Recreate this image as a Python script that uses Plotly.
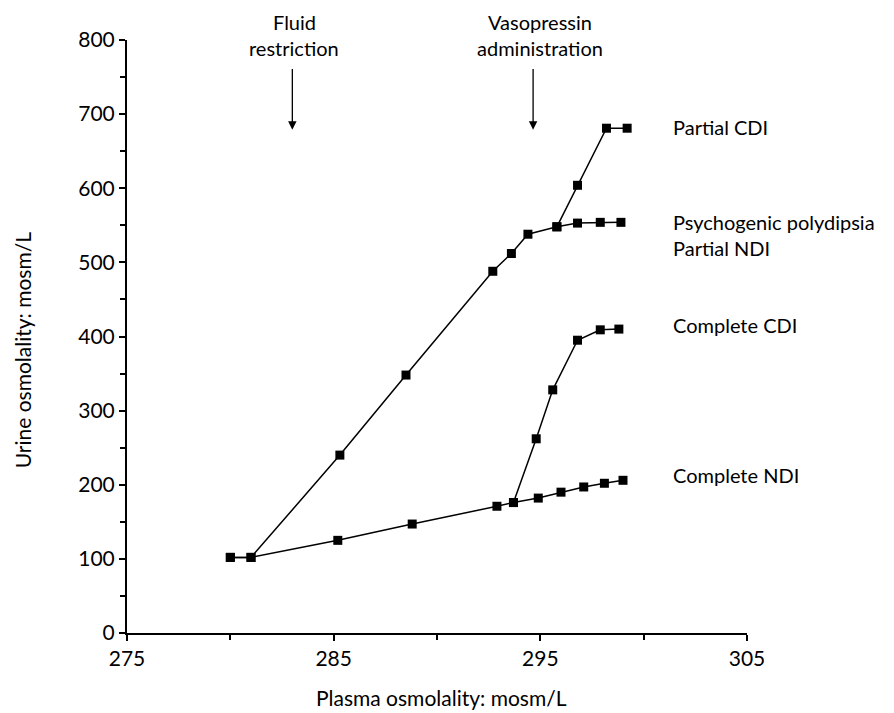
import plotly.graph_objects as go

# Shared baseline and fluid-restriction path (ends at psychogenic polydipsia / partial NDI plateau)
restr_x = [280.0, 281.0, 285.3, 288.5, 292.7, 293.6, 294.4, 295.8, 296.8, 297.9, 298.9]
restr_y = [102, 102, 240, 348, 488, 512, 538, 548, 553, 554, 554]

# Partial CDI (branches from the plateau after vasopressin)
pcdi_x = [295.8, 296.8, 298.2, 299.2]
pcdi_y = [548, 604, 681, 681]

# Complete NDI
cndi_x = [280.0, 281.0, 285.2, 288.8, 292.9, 293.7, 294.9, 296.0, 297.1, 298.1, 299.0]
cndi_y = [102, 102, 125, 147, 171, 176, 182, 190, 197, 202, 206]

# Complete CDI (branches from the complete NDI line after vasopressin)
ccdi_x = [293.7, 294.8, 295.6, 296.8, 297.9, 298.8]
ccdi_y = [176, 262, 328, 395, 409, 410]

x_ticks = [275, 285, 295, 305]
y_ticks = [0, 100, 200, 300, 400, 500, 600, 700, 800]

labels = ["Partial CDI", "Psychogenic polydipsia", "Partial NDI", "Complete CDI", "Complete NDI"]
label_y = [683, 555, 519, 416, 213]

FONT = "Lato, 'Open Sans', sans-serif"
FS = 20

fig = go.Figure()
for xs, ys in [(restr_x, restr_y), (pcdi_x, pcdi_y), (cndi_x, cndi_y), (ccdi_x, ccdi_y)]:
    fig.add_trace(go.Scatter(
        x=xs, y=ys, mode="lines+markers",
        line=dict(color="black", width=1.5),
        marker=dict(symbol="square", size=9, color="black"),
        showlegend=False, cliponaxis=False,
    ))

# page body has an 8px margin, so the figure is sized to fit inside the window
fig.update_layout(
    width=886, height=705,
    margin=dict(l=119, r=147, t=32, b=80),
    paper_bgcolor="white", plot_bgcolor="white",
    font=dict(family=FONT, size=FS, color="black"),
    showlegend=False,
)
fig.update_xaxes(
    range=[275, 305], tickvals=x_ticks, ticktext=[str(v) for v in x_ticks],
    showgrid=False, zeroline=False, showline=True, linecolor="black", linewidth=2,
    ticks="outside", ticklen=6, tickwidth=1.5, tickcolor="black",
    minor=dict(tickvals=[280, 290, 300], ticks="outside", ticklen=5, tickwidth=1.5, tickcolor="black"),
    tickfont=dict(size=FS + 1, family=FONT), automargin=False,
)
fig.update_yaxes(
    range=[0, 800], tickvals=y_ticks, ticktext=[str(v) for v in y_ticks],
    showgrid=False, zeroline=False, showline=True, linecolor="black", linewidth=2,
    ticks="outside", ticklen=6, tickwidth=1.5, tickcolor="black",
    minor=dict(tickvals=[50, 150, 250, 350, 450, 550, 650, 750], ticks="outside", ticklen=5,
               tickwidth=1.5, tickcolor="black"),
    tickfont=dict(size=FS + 1, family=FONT), automargin=False,
)

# Axis titles
fig.add_annotation(text="Plasma osmolality: mosm/L", xref="paper", yref="paper",
                   x=0.507, y=-0.108, xanchor="center", yanchor="middle", showarrow=False,
                   font=dict(size=FS + 1, family=FONT))
fig.add_annotation(text="Urine osmolality: mosm/L", xref="paper", yref="paper",
                   x=-0.169, y=0.477, textangle=-90, xanchor="center", yanchor="middle",
                   showarrow=False, font=dict(size=FS + 1, family=FONT))

# Right-side labels
for t, yv in zip(labels, label_y):
    fig.add_annotation(text=t, x=301.3, y=yv, xref="x", yref="y", xanchor="left",
                       yanchor="middle", showarrow=False, font=dict(size=FS, family=FONT))

# Event labels and arrows
for cx, l1, l2 in [(283.1, "Fluid", "restriction"), (295.0, "Vasopressin", "administration")]:
    xp = (cx - 275) / 30
    fig.add_annotation(text=l1, x=xp, y=1.031, xref="paper", yref="paper", showarrow=False,
                       xanchor="center", yanchor="middle", font=dict(size=FS, family=FONT))
    fig.add_annotation(text=l2, x=xp, y=0.987, xref="paper", yref="paper", showarrow=False,
                       xanchor="center", yanchor="middle", font=dict(size=FS, family=FONT))

for ax_ in [283.0, 294.65]:
    fig.add_annotation(x=ax_, y=679, ax=ax_, ay=763, xref="x", yref="y", axref="x", ayref="y",
                       text="", showarrow=True, arrowhead=2, arrowsize=1.3, arrowwidth=1.3,
                       arrowcolor="black")

fig.write_html("out.html")
